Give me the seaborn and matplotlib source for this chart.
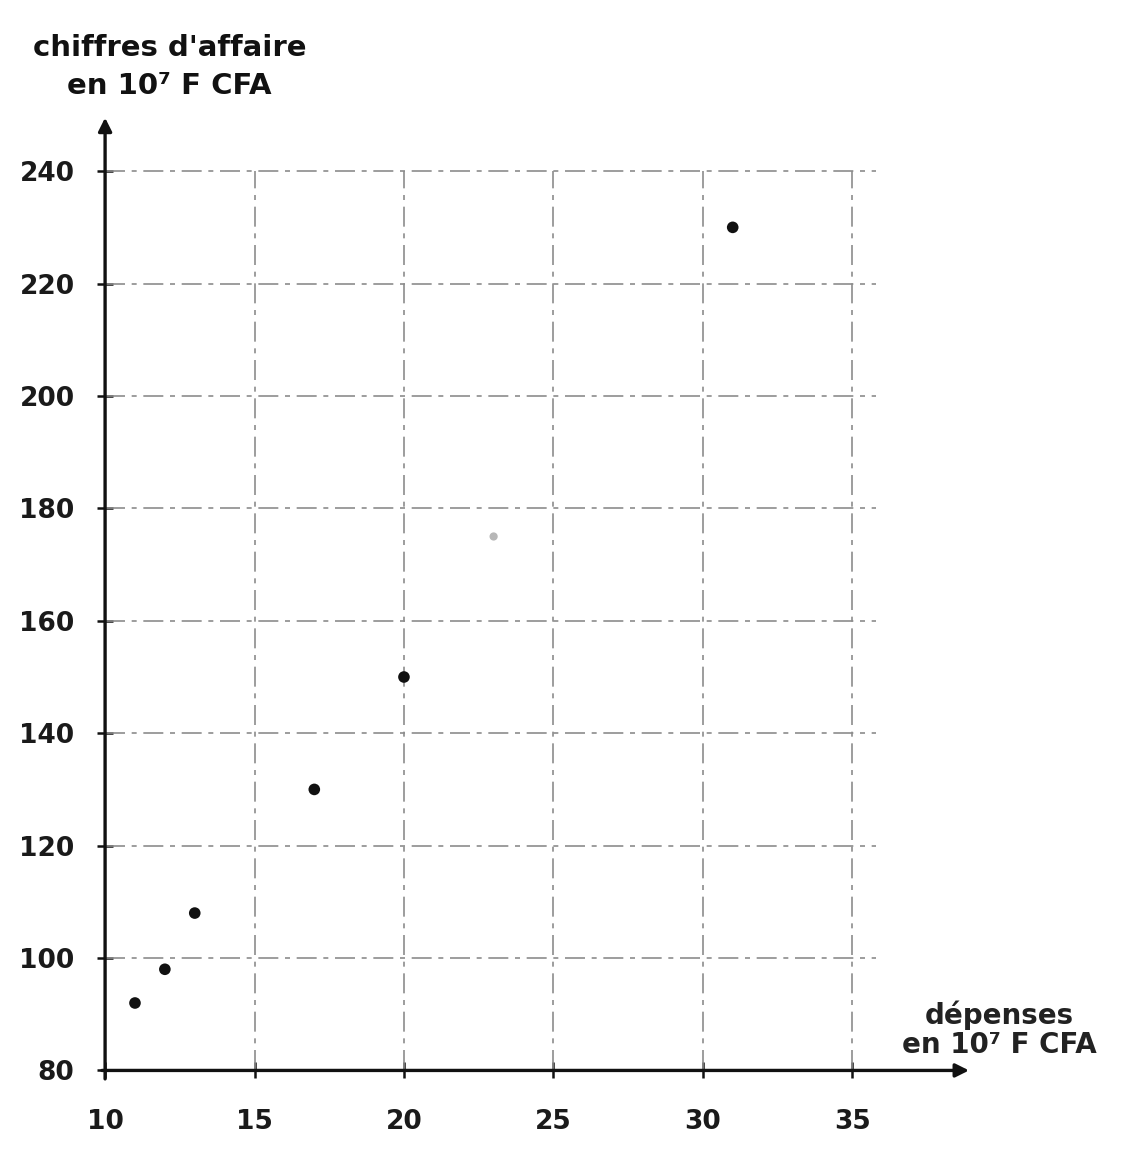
import matplotlib
matplotlib.use("Agg")
import matplotlib.pyplot as plt
import seaborn as sns
import pandas as pd

# Data
depenses = [11, 12, 13, 17, 20, 23, 31]
chiffres = [92, 98, 108, 130, 150, 175, 230]
point_alpha = [1, 1, 1, 1, 1, 0.25, 1]
x_ticks = [10, 15, 20, 25, 30, 35]
y_ticks = [80, 100, 120, 140, 160, 180, 200, 220, 240]
x_label = "dépenses\nen 10⁷ F CFA"
y_label = "chiffres d'affaire\nen 10⁷ F CFA"

df = pd.DataFrame({"depenses": depenses, "chiffres": chiffres, "alpha": point_alpha})

sns.set_theme(style="white")
plt.rcParams['font.family'] = ['DejaVu Sans']

fig = plt.figure(figsize=(11.30, 11.61), dpi=100)
ax = fig.add_axes([0.093, 0.078, 0.767, 0.823])

# grid (only within the drawn range)
grid_style = dict(color="#8c8c8c", lw=1.2, ls=(0, (12, 4, 3, 4)), zorder=1)
for xv in x_ticks[1:]:
    ax.plot([xv, xv], [80, 240], **grid_style)
for yv in y_ticks[1:]:
    ax.plot([10, 35.8], [yv, yv], **grid_style)

strong = df[df["alpha"] == 1]
faint = df[df["alpha"] < 1]
sns.scatterplot(data=strong, x="depenses", y="chiffres", ax=ax, color="#111111",
                s=70, edgecolor="none", zorder=3)
sns.scatterplot(data=faint, x="depenses", y="chiffres", ax=ax, color="#111111",
                s=35, edgecolor="none", alpha=0.3, zorder=3)

ax.set_xlim(10, 39)
ax.set_ylim(80, 250)
for s in ax.spines.values():
    s.set_visible(False)

# axes with arrows
ax.annotate("", xy=(39, 80), xytext=(9.8, 80),
            arrowprops=dict(arrowstyle="-|>", color="#111111", lw=2.4, mutation_scale=20),
            annotation_clip=False)
ax.annotate("", xy=(10, 250), xytext=(10, 78),
            arrowprops=dict(arrowstyle="-|>", color="#111111", lw=2.4, mutation_scale=20),
            annotation_clip=False)

ax.set_xticks(x_ticks)
ax.set_yticks(y_ticks)
ax.set_xticklabels([str(v) for v in x_ticks], fontsize=19, fontweight="bold")
ax.set_yticklabels([str(v) for v in y_ticks], fontsize=19, fontweight="bold")
ax.tick_params(axis="both", direction="inout", length=12, width=1.8, color="#111111",
               labelcolor="#1a1a1a", bottom=True, left=True)
ax.tick_params(axis="x", pad=22)
ax.tick_params(axis="y", pad=16)
ax.set_xlabel("")
ax.set_ylabel("")
ax.grid(False)

fig.text(0.150, 0.942, y_label, ha="center", va="center", fontsize=21,
         fontweight="bold", linespacing=1.45, color="#111111")
fig.text(0.884, 0.113, x_label, ha="center", va="center", fontsize=20,
         fontweight="bold", linespacing=1.05, color="#222222")

fig.savefig("out.png", dpi=100, facecolor="white")
